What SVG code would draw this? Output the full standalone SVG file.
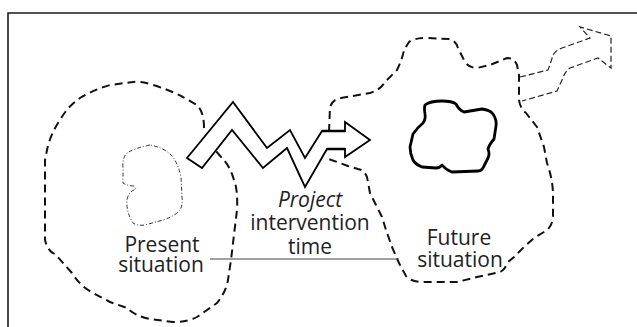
<svg xmlns="http://www.w3.org/2000/svg" width="637" height="327" viewBox="0 0 637 327">
<style>
.frame{fill:none;stroke:#1a1a1a;stroke-width:1.6}
.region{fill:none;stroke:#111;stroke-width:2;stroke-dasharray:8 5;stroke-linejoin:round;stroke-linecap:butt}
.inner-now{fill:none;stroke:#333;stroke-width:1;stroke-dasharray:4 2 1 2}
.inner-future{fill:none;stroke:#000;stroke-width:2.8;stroke-linejoin:round}
.farrow{fill:none;stroke:#222;stroke-width:1.2;stroke-dasharray:6 3}
.zig{fill:#fff;stroke:#000;stroke-width:1.8;stroke-linejoin:miter}
.lbl{font-family:"Open Sans","DejaVu Sans",sans-serif;font-size:21px;fill:#222;text-anchor:middle}
.conn{stroke:#444;stroke-width:1.2;fill:none}
</style>
<g id="frame">
<path class="frame" d="M8,327 V13 H637"/>
</g>
<g id="present-situation">
<path class="region" d="M204,128 Q204,112 197,105 L183,97 Q170,90 150,84 Q140,81 133,82 L110,85 Q93,90 80,98 Q68,106 60,120 Q50,135 47,150 L45,160 L45,240 Q48,252 55,254 L72,273 Q80,286 93,293 L110,302 L127,308 Q135,316 150,319 L173,322 Q188,322 197,317 L217,303 Q226,292 228,280 L231,260 L233,243 L237,210 Q238,190 234,180 Q230,166 222,158 L215,150"/>
<path class="inner-now" d="M150,145 Q135,148 127,153 Q122,158 123,168 L123,183 Q128,186 134,186 L136,189 Q128,192 127,200 Q126,212 133,223 Q137,226 145,225 L163,220 Q175,216 180,210 Q183,205 182,197 L181,177 Q178,163 172,156 Q165,148 150,145 Z"/>
</g>
<g id="future-situation">
<path class="region" d="M329,132 L330,107 Q333,99 341,98 L370,93 Q380,90 385,82 L397,70 Q402,60 404,50 L409,42 Q414,38 427,38 L450,39 Q456,41 458,48 L464,60 Q468,68 477,68 L490,65 L507,58 Q514,58 517,65 L519,75 L519,100 Q520,108 526,113 L537,127 L544,147 L547,163 Q553,180 553,195 L553,217 Q552,228 544,232 L534,238 L524,247 L514,257 L507,263 Q505,270 500,272 L477,277 L457,282 L420,282 Q410,281 406,276 L399,263 L392,247 L386,230 L382,217 L376,205 L370,193 L367,177 Q364,170 358,169 L348,166 L326,158"/>
<path class="inner-future" d="M425,105 Q430,101 442,101 Q452,101 456,104 Q459,110 464,112 L482,109 Q490,110 493,114 Q497,120 496,126 L494,139 Q489,145 488,149 Q490,154 488,158 L484,166 Q482,171 478,171 L452,172 Q446,170 442,165 Q440,168 436,168 L422,167 Q415,164 413,160 Q410,153 410,147 L413,134 Q418,127 423,123 Q426,119 425,114 Q424,108 425,105 Z"/>
<path class="farrow" d="M520,77 L548,70 Q551,62 553,55 Q556,50 562,48 L590,38 L580,27 L611,36 L611,68 L598,58 L570,68 Q565,71 562,80 L557,91 L522,101"/>
</g>
<g id="intervention-arrow">
<polygon class="zig" points="187,158 233,102 267,148 290,130 305,158 322,131 345,131 345,122 370,140 345,157 345,149 327,149 305,187 287,148 263,168 232,130 202,168"/>
<path d="M322,131 H345 M327,149 H345" stroke="#000" stroke-width="2.6" fill="none"/>
</g>
<g id="connectors">
<line class="conn" x1="210" y1="259" x2="399" y2="259"/>
</g>
<g id="labels">
<text class="lbl" x="162" y="252">Present</text>
<text class="lbl" x="161" y="272">situation</text>
<text class="lbl" x="310" y="207" font-style="italic">Project</text>
<text class="lbl" x="310" y="230">intervention</text>
<text class="lbl" x="310" y="254">time</text>
<text class="lbl" x="459" y="245">Future</text>
<text class="lbl" x="460" y="267">situation</text>
</g>
</svg>
